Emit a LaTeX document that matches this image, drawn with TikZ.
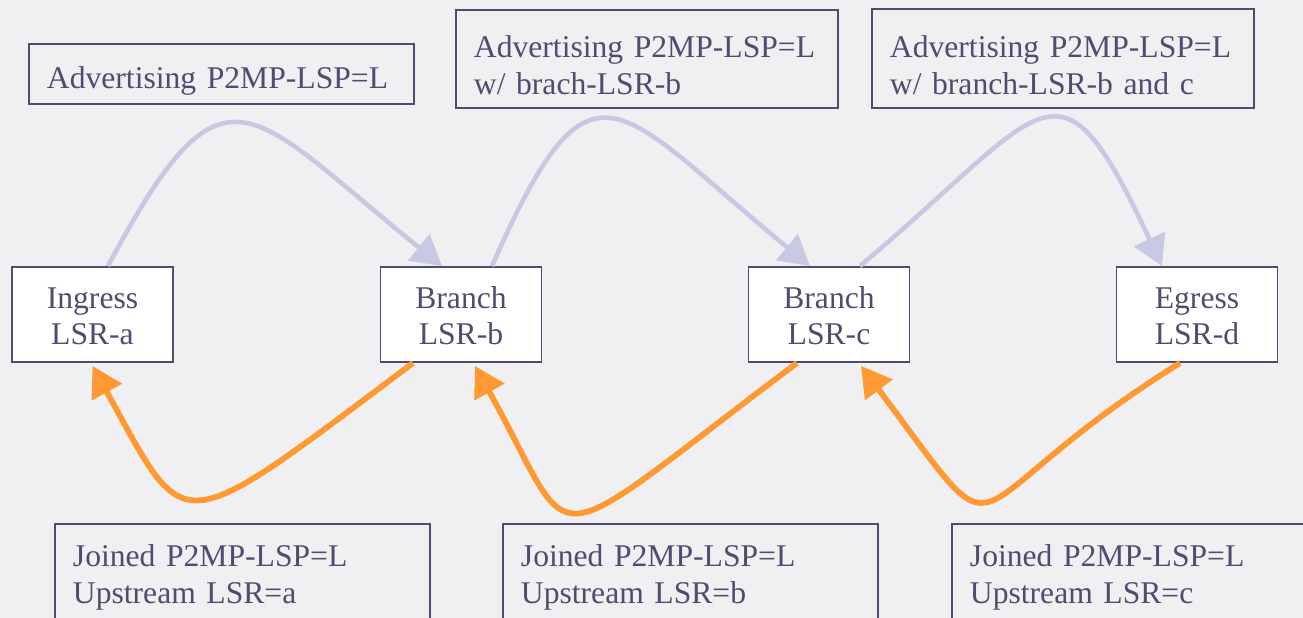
\documentclass[tikz,border=0pt]{standalone}
\usepackage{fontspec}
\setmainfont{Liberation Serif}
\usepackage{tikz}
\usetikzlibrary{
  arrows.meta,
  positioning
}
\definecolor{ink}{RGB}{77,77,112}
\definecolor{paper}{RGB}{240,240,242}
\definecolor{advert}{RGB}{200,200,226}
\definecolor{joined}{RGB}{255,153,51}
\tikzset{>={Triangle[length=17pt,width=19pt]}}
\tikzset{lsr/.style={draw=ink, line width=1.1pt, fill=white, text=ink,
    align=center, minimum width=3.22cm, minimum height=1.9cm, inner sep=0pt,
    text height=1.22cm, text depth=0pt}}
% text hangs from the top edge of the message boxes
\tikzset{msg/.style={draw=ink, line width=1.1pt, text=ink, align=left,
    anchor=north west, inner xsep=0.36cm, inner ysep=0.16cm, text height=0.7cm}}
\tikzset{advline/.style={->, draw=advert, line width=2.6pt}}
\tikzset{joinline/.style={->, draw=joined, line width=3.3pt}}

\begin{document}
\begin{tikzpicture}[x=0.02cm, y=-0.02cm, font=\fontsize{18}{21}\selectfont]
          \useasboundingbox (0,0) rectangle (1303,618);
          \fill[paper] (0,0) rectangle (1303,618);
          \clip (0,0) rectangle (1303,618);
          % routers
          \node[lsr] (a) at (92.5,314.5) {Ingress\\LSR-a};
          \node[lsr] (b) at (461,314.5) {Branch\\LSR-b};
          \node[lsr] (c) at (829,314.5) {Branch\\LSR-c};
          \node[lsr] (d) at (1197,314.5) {Egress\\LSR-d};
          % messages
          \node[msg, text width=6.98cm, minimum height=1.2cm] (adva) at (28,43) {Advertising P2MP-LSP=L};
          \node[msg, text width=6.92cm, minimum height=1.96cm] (advb) at (455,9) {Advertising P2MP-LSP=L\\w/ brach-LSR-b};
          \node[msg, text width=6.92cm, minimum height=1.98cm] (advc) at (871,8) {Advertising P2MP-LSP=L\\w/ branch-LSR-b and c};
          \node[msg, text width=6.78cm] (joina) at (54,523) {Joined P2MP-LSP=L\\Upstream LSR=a};
          \node[msg, text width=6.78cm] (joinb) at (502,523) {Joined P2MP-LSP=L\\Upstream LSR=b};
          \node[msg, text width=6.78cm] (joinc) at (951,523) {Joined P2MP-LSP=L\\Upstream LSR=c};
          % downstream advertisements
          \draw[advline] ([xshift=0.31cm]a.north) .. controls +(117,-220) and +(-195,-157) .. ([xshift=-0.38cm]b.north);
          \draw[advline] ([xshift=0.62cm]b.north) .. controls +(100,-228) and +(-195,-160) .. ([xshift=-0.38cm]c.north);
          \draw[advline] ([xshift=0.62cm]c.north) .. controls +(190,-160) and +(-105,-225) .. ([xshift=-0.7cm]d.north);
          % upstream joins
          \draw[joinline] ([xshift=-0.96cm]b.south) .. controls +(-240,180) and +(96,174) .. ([yshift=-0.06cm]a.south);
          \draw[joinline] ([xshift=-0.64cm]c.south) .. controls +(-264,198) and +(106,191) .. ([xshift=0.28cm,yshift=-0.06cm]b.south);
          \draw[joinline] ([xshift=-0.34cm]d.south) .. controls +(-238,148) and +(156,208) .. ([xshift=0.64cm,yshift=-0.06cm]c.south);
        \end{tikzpicture}
\end{document}
